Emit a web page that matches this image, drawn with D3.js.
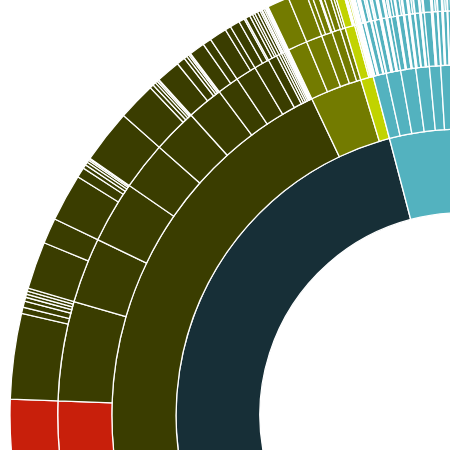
<!DOCTYPE html>
<html>
<head>
<meta charset="utf-8">
<script src="https://cdn.jsdelivr.net/npm/d3@7"></script>
<style>
  html, body { margin: 0; padding: 0; background: #fff; overflow: hidden; }
  svg { display: block; }
</style>
</head>
<body>
<svg id="chart" width="450" height="450"></svg>
<script>
// ---- DATA (values are angular shares, whole circle = 360) ----
// ring-3 nodes of the red branch (each array lists its ring-4 children)
const redRing3 = [[272]];
// ring-3 nodes of the dark olive branch
const darkOliveRing3 = [
  [11, 0.8, 0.8, 0.5, 0.4, 0.4, 0.4],
  [6.1, 3.3],
  [6.1, 1.3, 0.5, 0.4, 0.3, 0.2, 0.1],
  [6.9],
  [4.9, 0.5, 0.4, 0.3, 0.2, 0.1],
  [3.1, 1.1, 0.4, 0.3, 0.2, 0.1],
  [2.0, 1.1],
  [2.25, 0.75],
  [1.25, 0.75, 0.2],
  [0.6, 0.4, 0.3],
  [0.4], [0.35], [0.2, 0.1], [0.25], [0.2], [0.15], [0.15], [0.1]
];
// ring-3 nodes of the olive branch
const oliveRing3 = [[2.8], [2.3], [0.6, 0.8, 0.15], [0.45, 0.8], [0.4, 0.3]];
// ring-3 nodes of the lime branch
const limeRing3 = [[1.1, 0.15, 0.15], [0.25], [0.2], [0.15], 0.1];
// ring-2 nodes of the teal branch (each lists ring-3 nodes; arrays hold ring-4 children)
const tealRing2 = [
  [0.15, 0.15, [0.25, 0.15], 0.1, 0.15, [0.5, 0.2], 0.15, [0.4]],
  [0.1, [0.2, 0.5], 0.15, 0.15, [0.55], 0.1, 0.15, [0.3, 0.2]],
  [[0.4, 0.4], 0.1, 0.1, [0.5, 0.25], 0.1, 0.1, [0.55]],
  [0.15, 0.1, [0.35, 0.25], 0.1, [0.65], 0.1, 0.1, [0.3, 0.15]],
  [[1.0], 0.1, 0.15, [0.35, 0.25]],
  [0.1, [0.55], 0.1, 0.1, [0.3, 0.25], 0.1, [0.4]],
  [[0.8], [0.8]]
];
const groups = ["navy", "darkolive", "red", "olive", "lime", "teal"];
const groupColors = ["#172f37", "#3a3d00", "#c81f0b", "#737b00", "#c1d300", "#53b2bf"];

// ---- BUILD HIERARCHY ----
function build(item, group) {
  if (Array.isArray(item)) return { group, children: item.map(c => build(c, group)) };
  return { group, value: item };
}
const rootData = {
  group: "root",
  children: [
    { group: "navy", children: [
      { group: "darkolive", children:
          redRing3.map(b => build(b, "red")).concat(darkOliveRing3.map(b => build(b, "darkolive"))) },
      build(oliveRing3, "olive"),
      build(limeRing3, "lime")
    ]},
    { group: "teal", children: tealRing2.map(b => build(b, "teal")) }
  ]
};

const R = 452;
const color = d3.scaleOrdinal().domain(groups).range(groupColors);

const root = d3.hierarchy(rootData).sum(d => d.value || 0);
d3.partition().size([2 * Math.PI, R * R])(root);

const arc = d3.arc()
  .startAngle(d => d.x0)
  .endAngle(d => d.x1)
  .innerRadius(d => Math.sqrt(d.y0))
  .outerRadius(d => Math.sqrt(d.y1));

const svg = d3.select("#chart");
const g = svg.append("g").attr("transform", "translate(462,415)");

g.selectAll("path")
  .data(root.descendants().filter(d => d.depth > 0))
  .join("path")
  .attr("d", arc)
  .attr("fill", d => color(d.data.group))
  .attr("stroke", "#fff")
  .attr("stroke-width", 1.3)
  .attr("fill-rule", "evenodd");
</script>
</body>
</html>
